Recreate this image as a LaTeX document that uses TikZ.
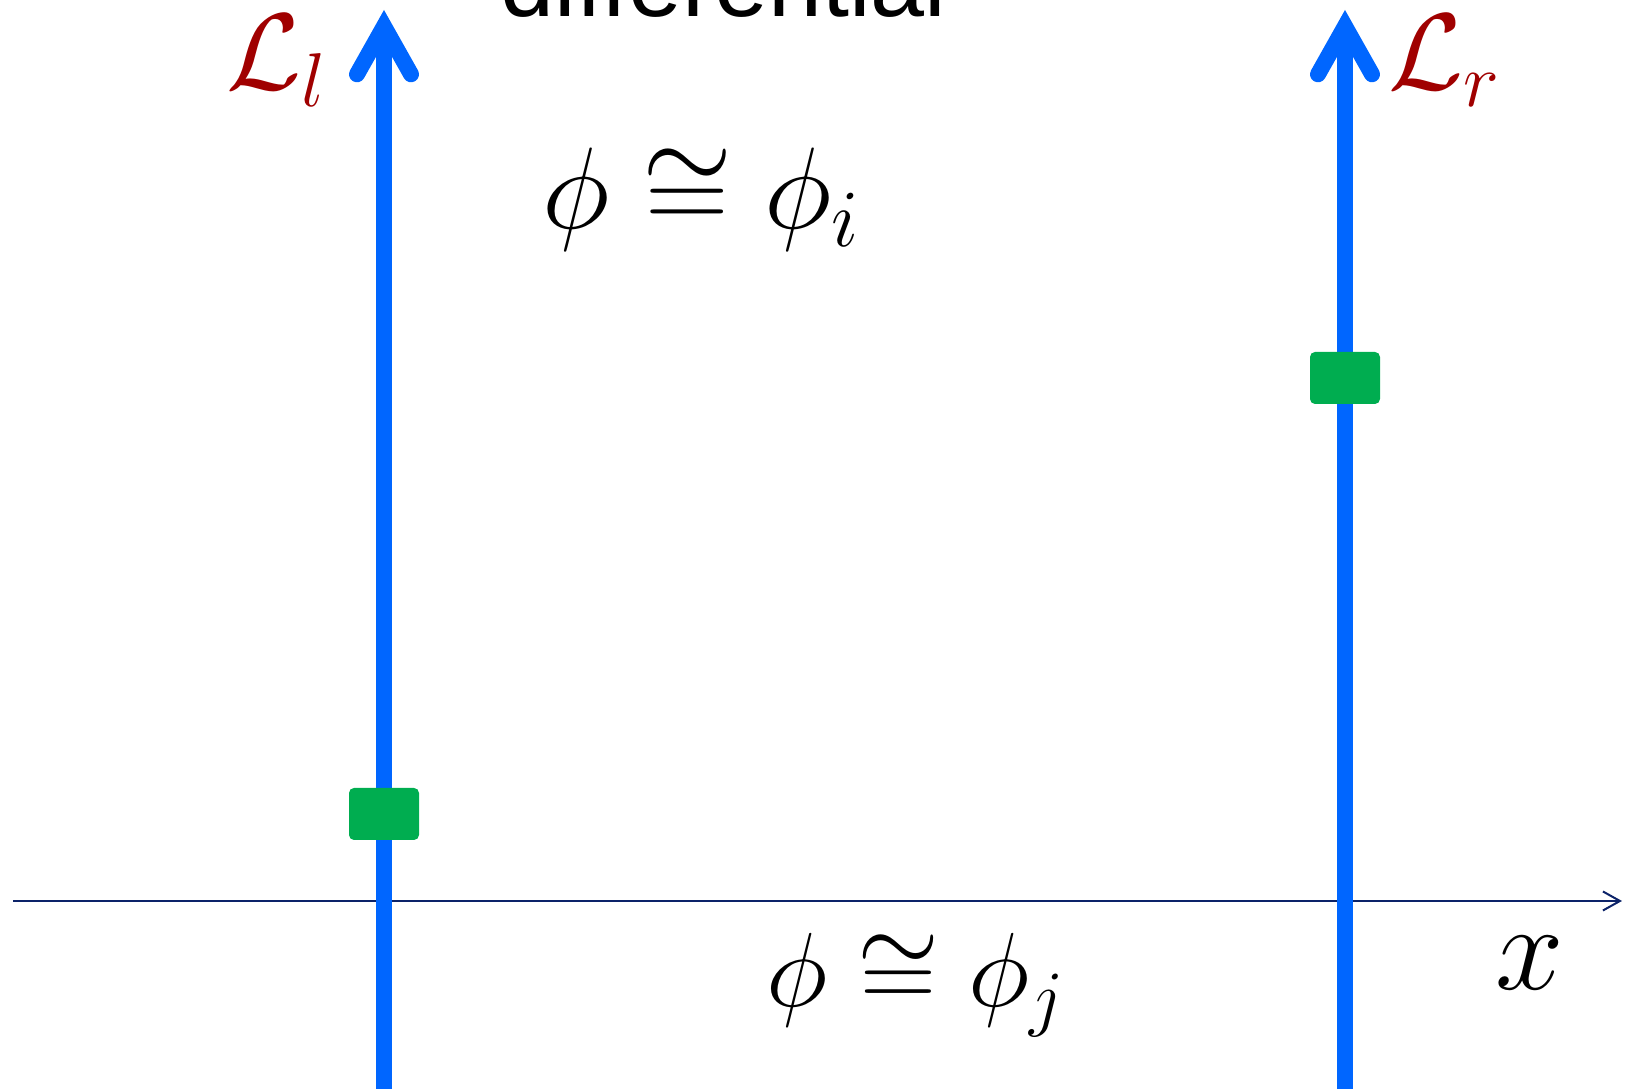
\RequirePackage{fix-cm}
\documentclass[tikz,border=0pt]{standalone}
\usepackage{fontspec}
\newfontfamily\headfont{Liberation Sans}
\usetikzlibrary{arrows.meta}
\definecolor{wireblue}{RGB}{0,102,255}
\definecolor{markgreen}{RGB}{0,173,80}
\definecolor{lblred}{RGB}{160,0,0}
\definecolor{axisnavy}{RGB}{12,35,105}
\begin{document}
\begin{tikzpicture}[
  wire/.style={wireblue,line width=1.6mm,-{Straight Barb[length=4.8mm,width=5.4mm,line cap=round,line join=miter]}},
  marker/.style={fill=markgreen,rounded corners=0.5mm,minimum width=7mm,minimum height=5.2mm,inner sep=0},
  mathlbl/.style={inner sep=0,anchor=base west,font=\fontsize{#1}{40}\selectfont},
  mathlbl/.default=33,
]
\clip (0,0) rectangle (16.27,10.89);
% --- x axis ---
\coordinate (ax0) at (0.135,1.88);
\coordinate (ax1) at (16.22,1.88);
\draw[axisnavy,line width=0.2mm,-{Straight Barb[length=1.7mm,width=1.9mm]}] (ax0) -- (ax1);
\node[mathlbl=35] (xlbl) at (14.95,0.99) {$x$};
% --- left line ---
\coordinate (lbot) at (3.84,0);
\coordinate (ltop) at (3.84,10.79);
\draw[wire] (lbot) -- (ltop);
\node[marker] (ml) at (3.84,2.75) {};
\node[mathlbl=31,lblred] (Ll) at (2.26,9.99) {$\mathcal{L}_l$};
% --- right line ---
\coordinate (rbot) at (13.45,0);
\coordinate (rtop) at (13.45,10.79);
\draw[wire] (rbot) -- (rtop);
\node[marker] (mr) at (13.45,7.11) {};
\node[mathlbl=31,lblred] (Lr) at (13.88,9.99) {$\mathcal{L}_r$};
% --- labels ---
\node[inner sep=0,anchor=base west,font=\headfont\fontsize{27.6}{33}\selectfont] (title) at (5.00,10.72) {differential};
\node[mathlbl=33] (phii) at (5.42,8.60) {$\phi\cong\phi_i$};
\node[mathlbl=30] (phij) at (7.66,0.82) {$\phi\cong\phi_j$};
\end{tikzpicture}
\end{document}
